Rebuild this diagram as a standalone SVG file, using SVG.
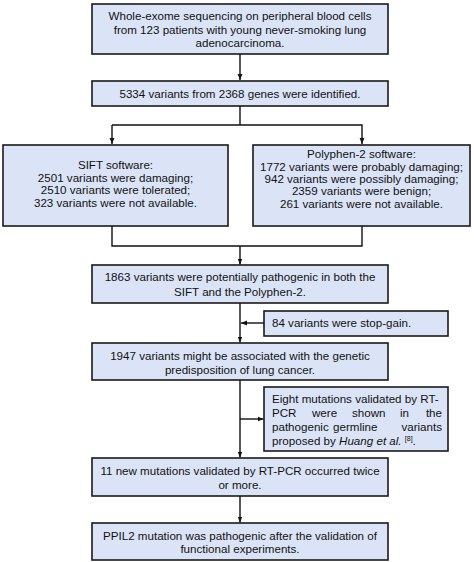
<svg xmlns="http://www.w3.org/2000/svg" width="474" height="562" viewBox="0 0 474 562">
<style>
.box{fill:#dbe4f7;stroke:#1a1a1a;stroke-width:1.6}
text{font-family:"Liberation Sans",Arial,sans-serif;font-size:11.6px;fill:#111}
.c{text-anchor:middle}
.e{text-anchor:end}
.ln{fill:none;stroke:#111;stroke-width:1.4}
</style>
<defs>
<marker id="ah" viewBox="0 0 10 10" refX="10" refY="5" markerWidth="6" markerHeight="6" orient="auto" markerUnits="userSpaceOnUse">
<path d="M0,1 L10,5 L0,9 z" fill="#111"/>
</marker>
</defs>
<rect width="474" height="562" fill="#fff"/>
<g id="connectors">
<line class="ln" x1="240" y1="54" x2="240" y2="80" marker-end="url(#ah)"/>
<polyline class="ln" points="240,106 240,125"/>
<polyline class="ln" points="112,125 362,125 362,144" marker-end="url(#ah)"/>
<line class="ln" x1="112" y1="125" x2="112" y2="144" marker-end="url(#ah)"/>
<polyline class="ln" points="112,226 112,246 362,246 362,226"/>
<line class="ln" x1="240" y1="246" x2="240" y2="264.5" marker-end="url(#ah)"/>
<line class="ln" x1="240" y1="303" x2="240" y2="342.5" marker-end="url(#ah)"/>
<line class="ln" x1="264" y1="323" x2="241" y2="323" marker-end="url(#ah)"/>
<line class="ln" x1="240" y1="380" x2="240" y2="457.5" marker-end="url(#ah)"/>
<line class="ln" x1="240" y1="419" x2="263.5" y2="419" marker-end="url(#ah)"/>
<line class="ln" x1="240" y1="496" x2="240" y2="522.5" marker-end="url(#ah)"/>
</g>
<g id="n1">
<rect class="box" x="92" y="4" width="296" height="50"/>
<text class="c" x="240" y="20">Whole-exome sequencing on peripheral blood cells</text>
<text class="c" x="240" y="34">from 123 patients with young never-smoking lung</text>
<text class="c" x="240" y="47">adenocarcinoma.</text>
</g>
<g id="n2">
<rect class="box" x="92" y="81" width="296" height="25"/>
<text class="c" x="240" y="97.5">5334 variants from 2368 genes were identified.</text>
</g>
<g id="n3">
<rect class="box" x="3" y="145" width="225" height="81"/>
<text class="c" x="115.5" y="169">SIFT software:</text>
<text class="c" x="115.5" y="181.5">2501 variants were damaging;</text>
<text class="c" x="115.5" y="194">2510 variants were tolerated;</text>
<text class="c" x="115.5" y="207">323 variants were not available.</text>
</g>
<g id="n4">
<rect class="box" x="253" y="145" width="217" height="81"/>
<text class="c" x="361.5" y="158">Polyphen-2 software:</text>
<text class="c" x="361.5" y="170.5">1772 variants were probably damaging;</text>
<text class="c" x="361.5" y="182.5">942 variants were possibly damaging;</text>
<text class="c" x="361.5" y="195">2359 variants were benign;</text>
<text class="c" x="361.5" y="207.5">261 variants were not available.</text>
</g>
<g id="n5">
<rect class="box" x="92" y="265" width="296" height="38"/>
<text class="c" x="240" y="281">1863 variants were potentially pathogenic in both the</text>
<text class="c" x="240" y="296">SIFT and the Polyphen-2.</text>
</g>
<g id="n6">
<rect class="box" x="264" y="311" width="184" height="25"/>
<text x="272" y="327">84 variants were stop-gain.</text>
</g>
<g id="n7">
<rect class="box" x="92" y="343" width="296" height="37"/>
<text class="c" x="240" y="360">1947 variants might be associated with the genetic</text>
<text class="c" x="240" y="373.5">predisposition of lung cancer.</text>
</g>
<g id="n8">
<rect class="box" x="264" y="387" width="184" height="64"/>
<text x="272" y="403">Eight mutations validated by RT-</text>
<text x="272" y="417">PCR</text>
<text x="312" y="417">were</text>
<text x="352" y="417">shown</text>
<text x="400" y="417">in</text>
<text class="e" x="442" y="417">the</text>
<text x="272" y="431">pathogenic</text>
<text x="333" y="431">germline</text>
<text class="e" x="442" y="431">variants</text>
<text x="272" y="445">proposed by <tspan font-style="italic">Huang et al.</tspan> <tspan font-size="7" dy="-4">[8]</tspan><tspan dy="4">.</tspan></text>
</g>
<g id="n9">
<rect class="box" x="92" y="458" width="296" height="38"/>
<text class="c" x="240" y="475">11 new mutations validated by RT-PCR occurred twice</text>
<text class="c" x="240" y="488.5">or more.</text>
</g>
<g id="n10">
<rect class="box" x="92" y="523" width="296" height="37"/>
<text class="c" x="240" y="540">PPIL2 mutation was pathogenic after the validation of</text>
<text class="c" x="240" y="553">functional experiments.</text>
</g>
</svg>
